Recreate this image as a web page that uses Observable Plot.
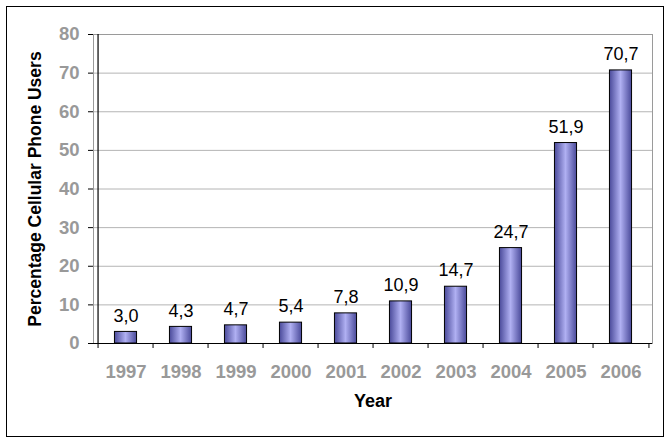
<!DOCTYPE html>
<html>
<head>
<meta charset="utf-8">
<script src="https://cdn.jsdelivr.net/npm/d3@7"></script>
<script src="https://cdn.jsdelivr.net/npm/@observablehq/plot@0.6"></script>
<style>
  html, body { margin: 0; padding: 0; background: #fff; }
  #chart { position: relative; width: 671px; height: 443px; }
  #frame { position: absolute; left: 6px; top: 6px; width: 656px; height: 429px; border: 1.5px solid #000; box-sizing: content-box; pointer-events: none; }
</style>
</head>
<body>
<div id="chart"><div id="frame"></div></div>
<script>
const years = ["1997","1998","1999","2000","2001","2002","2003","2004","2005","2006"];
const values = [3.0, 4.3, 4.7, 5.4, 7.8, 10.9, 14.7, 24.7, 51.9, 70.7];
const labels = ["3,0","4,3","4,7","5,4","7,8","10,9","14,7","24,7","51,9","70,7"];
const yTicks = [0, 10, 20, 30, 40, 50, 60, 70, 80];

const data = years.map((y, i) => ({year: y, value: values[i], label: labels[i]}));

const W = 671, H = 443, ml = 93, mr = 19, mt = 34, mb = 100;
const step = (W - ml - mr) / years.length;
const inset = (step - 23) / 2;
const font = "Liberation Sans, Arial, sans-serif";

const plot = Plot.plot({
  width: W,
  height: H,
  marginLeft: ml,
  marginRight: mr,
  marginTop: mt,
  marginBottom: mb,
  style: {fontFamily: font, background: "transparent"},
  x: {domain: years, padding: 0, label: null},
  y: {domain: [0, 80], label: null},
  marks: [
    Plot.gridY(yTicks, {stroke: "#b4b4b4", strokeOpacity: 1, strokeWidth: 1}),
    Plot.frame({stroke: "#9a9a9a", strokeWidth: 1}),
    Plot.barY(data, {x: "year", y: "value", fill: "url(#barGrad)", stroke: "#000", strokeWidth: 1, insetLeft: inset, insetRight: inset}),
    Plot.text(data, {x: "year", y: "value", text: "label", dy: -16, fontSize: 18, fill: "#000", fontFamily: font}),
    Plot.ruleX([0], {x: () => years[0], dx: -step / 2, y1: 0, y2: 80, stroke: "#000", strokeWidth: 1.2}),
    Plot.ruleY([0], {stroke: "#000", strokeWidth: 1.2}),
    Plot.axisY(yTicks, {tickSize: 5, tickPadding: 9, fontSize: 18.5, fontWeight: "bold", fill: "#999", stroke: "#000", label: null}),
    Plot.axisX({tickSize: 0, tickPadding: 21, fontSize: 18.5, fontWeight: "bold", fill: "#999", label: null}),
    Plot.axisX({tickSize: 5, tickFormat: null, dx: -step / 2, stroke: "#000", label: null}),
    Plot.axisX(["2006"], {tickSize: 5, tickFormat: null, dx: step / 2, stroke: "#000", label: null}),
    Plot.text(["Percentage Cellular Phone Users"], {frameAnchor: "left", textAnchor: "middle", dx: -58, rotate: -90, fontSize: 17.5, fontWeight: "bold", fill: "#000", fontFamily: font}),
    Plot.text(["Year"], {frameAnchor: "bottom", dy: 63, fontSize: 18, fontWeight: "bold", fill: "#000", fontFamily: font})
  ]
});

const svg = d3.select(plot);
const defs = svg.insert("defs", ":first-child");
const grad = defs.append("linearGradient").attr("id", "barGrad").attr("x1", "0%").attr("x2", "100%").attr("y1", "0%").attr("y2", "0%");
grad.append("stop").attr("offset", "0%").attr("stop-color", "#4a4a9a");
grad.append("stop").attr("offset", "50%").attr("stop-color", "#b0b0f2");
grad.append("stop").attr("offset", "100%").attr("stop-color", "#4a4a9a");

document.getElementById("chart").prepend(plot);
plot.style.position = "absolute";
plot.style.left = "0";
plot.style.top = "0";
</script>
</body>
</html>
